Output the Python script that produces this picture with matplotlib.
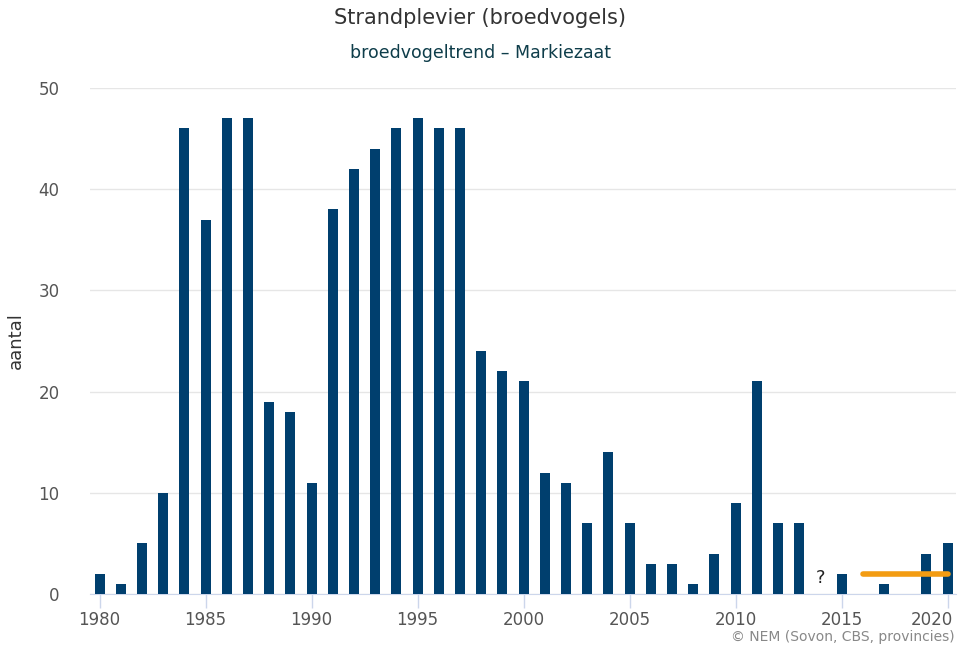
import matplotlib
matplotlib.use("Agg")
import matplotlib.pyplot as plt
import matplotlib.transforms as mtransforms
import numpy as np

years = list(range(1980, 2021))
values = [2, 1, 5, 10, 46, 37, 47, 47, 19, 18,
          11, 38, 42, 44, 46, 47, 46, 46, 24, 22,
          21, 12, 11, 7, 14, 7, 3, 3, 1, 4,
          9, 21, 7, 7, None, 2, 0, 1, 0, 4, 5]
missing_years = [2014]
trend_years = [2016, 2020]
trend_values = [2, 2]
xticks = [1980, 1985, 1990, 1995, 2000, 2005, 2010, 2015, 2020]
yticks = [0, 10, 20, 30, 40, 50]

fig = plt.figure(figsize=(9.61, 6.5), dpi=100)
ax = fig.add_axes([90/961, 56/650, 866/961, 506/650])

bx = [y for y, v in zip(years, values) if v is not None]
bv = [v for v in values if v is not None]
ax.bar(bx, bv, width=0.47, color="#003f6e", zorder=3)
ax.plot(trend_years, trend_values, color="#f39c12", lw=4, solid_capstyle="round", zorder=4)
for my in missing_years:
    ax.text(my, 1.6, "?", ha="center", va="center", fontsize=13, color="#222222", zorder=5)

ax.set_xlim(1979.55, 2020.4)
ax.set_ylim(0, 50)
ax.set_yticks(yticks)
ax.set_xticks(xticks)
ax.grid(axis="y", color="#e6e6e6", lw=1, zorder=0)
for s in ["top", "right", "left"]:
    ax.spines[s].set_visible(False)
ax.spines["bottom"].set_color("#ccd6eb")
ax.tick_params(axis="y", length=0, labelsize=12, labelcolor="#555555", pad=22)
ax.tick_params(axis="x", length=10, width=1, color="#ccd6eb", labelsize=12, labelcolor="#555555", pad=2)
ax.set_ylabel("aantal", fontsize=13, color="#333333", labelpad=10)

last = ax.get_xticklabels()[-1]
last.set_ha("right")
last.set_transform(last.get_transform() + mtransforms.ScaledTranslation(5/100, 0, fig.dpi_scale_trans))

fig.text(0.5, 1 - 18/650, "Strandplevier (broedvogels)", ha="center", va="center", fontsize=15, color="#333333")
fig.text(0.5, 1 - 53/650, "broedvogeltrend \u2013 Markiezaat", ha="center", va="center", fontsize=12.5, color="#0e3d4a")
fig.text(955/961, 1 - 637/650, "\u00a9 NEM (Sovon, CBS, provincies)", ha="right", va="center", fontsize=10, color="#888888")

fig.savefig("out.png", dpi=100)
